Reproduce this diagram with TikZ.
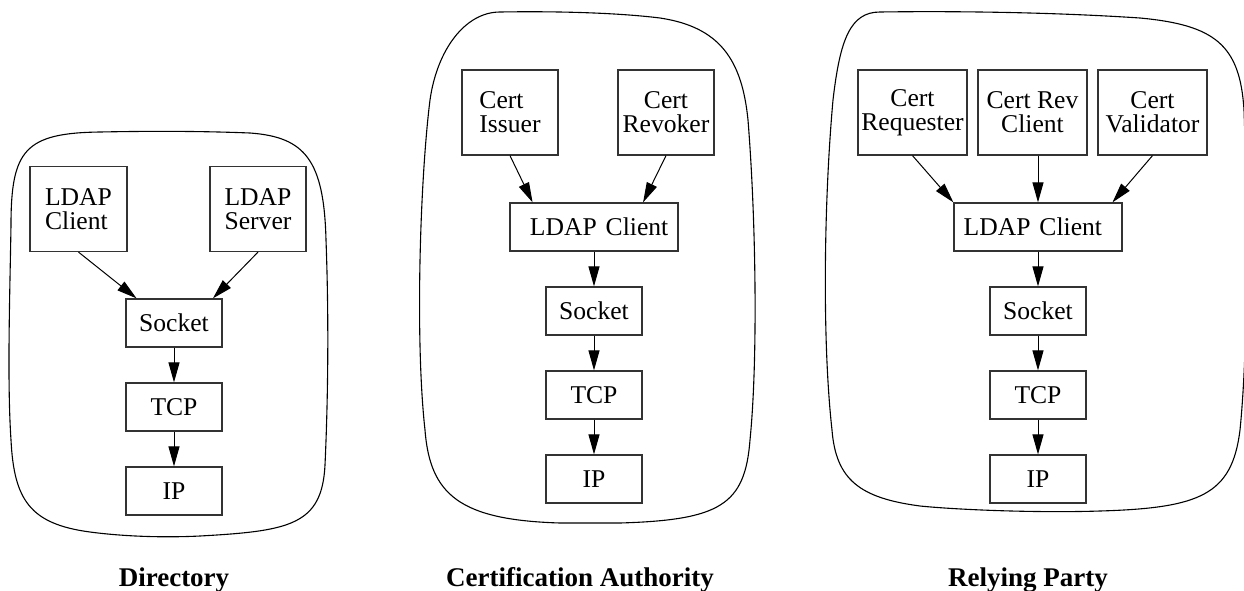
\documentclass[tikz,border=0pt]{standalone}
\usepackage{fontspec}
\setmainfont{Liberation Serif}
\usetikzlibrary{arrows.meta,calc}

\begin{document}
\begin{tikzpicture}[x=0.5pt,y=-0.5pt,
  box/.style={draw=black!80, line width=0.6pt, rectangle, inner sep=0pt,
    align=center, font=\fontsize{12.8}{12}\selectfont},
  sbox/.style={box, minimum width=48pt, minimum height=24pt},
  tbox/.style={box, minimum height=42.5pt},
  wbox/.style={box, minimum width=84pt, minimum height=24pt},
  link/.style={line width=0.5pt, -{Triangle[length=10pt,width=5.5pt]}},
  blob/.style={draw, line width=0.55pt},
  caption/.style={font=\fontsize{13.5}{16}\selectfont\bfseries, anchor=base}
]
\useasboundingbox (0,0) rectangle (1244,590);

% ---------- Directory ----------
\path[blob] (100,132) .. controls (150,131) and (200,131) .. (250,133)
  .. controls (305,137) and (324,160) .. (326,240)
  .. controls (329,320) and (328,400) .. (325,465)
  .. controls (322,525) and (290,531) .. (200,536)
  .. controls (160,538) and (120,536) .. (90,532)
  .. controls (30,524) and (14,500) .. (11,440)
  .. controls (7,380) and (10,290) .. (11,225)
  .. controls (11,150) and (25,133) .. cycle;

\node[tbox, minimum width=48.5pt, align=left] (dcli) at (78.5,209) {LDAP\\Client};
\node[tbox, minimum width=48pt, align=left]   (dsrv) at (258,209)  {LDAP\\Server};
\node[sbox] (dsock) at (174,323) {Socket};
\node[sbox] (dtcp)  at (174,407) {TCP};
\node[sbox] (dip)   at (174,491) {IP};

\draw[link] (dcli.south) -- ($(dsock.north west)!0.115!(dsock.north east)$);
\draw[link] (dsrv.south) -- ($(dsock.north west)!0.9!(dsock.north east)$);
\draw[link] (dsock) -- (dtcp);
\draw[link] (dtcp) -- (dip);

\node[caption] (ldir) at (174,586) {Directory};

% ---------- Certification Authority ----------
\path[blob] (500,12) .. controls (560,11) and (620,13) .. (660,18)
  .. controls (720,27) and (742,60) .. (748,120)
  .. controls (756,220) and (758,360) .. (750,440)
  .. controls (745,505) and (720,520) .. (620,523)
  -- (560,523)
  .. controls (460,520) and (430,495) .. (425,430)
  .. controls (415,340) and (420,180) .. (430,100)
  .. controls (437,50) and (465,12) .. cycle;

\node[tbox, minimum width=48pt, align=left] (cis) at (510,112.5) {Cert\\Issuer};
\node[tbox, minimum width=48pt] (crv) at (666,112.5) {Cert\\Revoker};
\node[wbox] (cldap) at (594,227) {\hspace{0.4em}LDAP\hspace{0.35em}Client};
\node[sbox] (csock) at (594,311) {Socket};
\node[sbox] (ctcp)  at (594,395) {TCP};
\node[sbox] (cip)   at (594,479) {IP};

\draw[link] (cis.south) -- ($(cldap.north west)!0.137!(cldap.north east)$);
\draw[link] (crv.south) -- ($(cldap.north west)!0.79!(cldap.north east)$);
\draw[link] (cldap) -- (csock);
\draw[link] (csock) -- (ctcp);
\draw[link] (ctcp) -- (cip);

\node[caption] (lca) at (580,586) {Certification Authority};

% ---------- Relying Party ----------
\path[blob] (880,12) .. controls (950,11) and (1050,12) .. (1140,18)
  .. controls (1215,25) and (1240,45) .. (1244,110)
  .. controls (1248,220) and (1248,350) .. (1240,430)
  .. controls (1232,495) and (1200,508) .. (1100,511)
  .. controls (1040,513) and (960,510) .. (920,506)
  .. controls (860,498) and (836,480) .. (832,430)
  .. controls (822,340) and (824,200) .. (833,100)
  .. controls (840,40) and (850,12) .. cycle;

\node[tbox, minimum width=54.5pt] (rreq) at (912.5,112.5) {Cert\\Requester};
\node[tbox, minimum width=54.5pt] (rrev) at (1032.5,112.5) {Cert Rev\\Client};
\node[tbox, minimum width=54.5pt] (rval) at (1152.5,112.5) {Cert\\Validator};
\node[wbox] (rldap) at (1038,227) {LDAP\hspace{0.35em}Client\hspace{0.4em}};
\node[sbox] (rsock) at (1038,311) {Socket};
\node[sbox] (rtcp)  at (1038,395) {TCP};
\node[sbox] (rip)   at (1038,479) {IP};

\draw[link] (rreq.south) -- (rldap.north west);
\draw[link] (rrev.south -| rldap.north) -- (rldap.north);
\draw[link] (rval.south) -- ($(rldap.north west)!0.94!(rldap.north east)$);
\draw[link] (rldap) -- (rsock);
\draw[link] (rsock) -- (rtcp);
\draw[link] (rtcp) -- (rip);

\node[caption] (lrp) at (1028,586) {Relying Party};

\end{tikzpicture}
\end{document}
